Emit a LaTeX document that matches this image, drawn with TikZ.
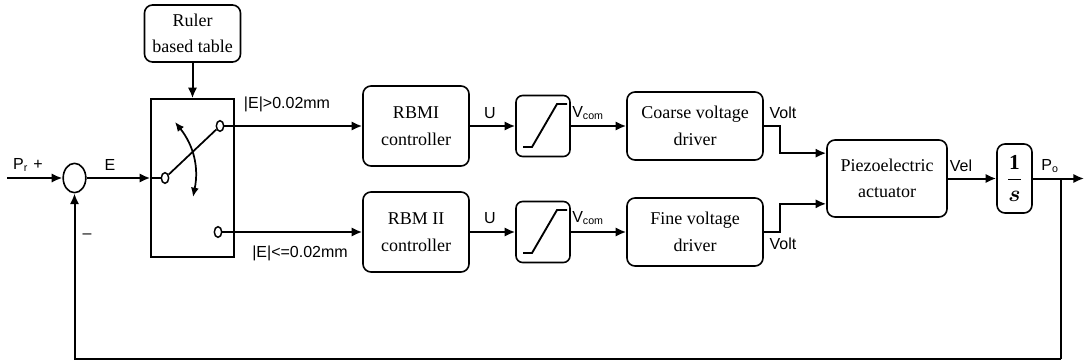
\documentclass[tikz,border=0pt]{standalone}
\usepackage{amsmath}
\usepackage{fontspec}
\setmainfont{Liberation Serif}
\setsansfont{Liberation Sans}
\usetikzlibrary{positioning,arrows.meta,shapes}

\begin{document}
\begin{tikzpicture}[x=0.75pt, y=-0.75pt,
      box/.style={rectangle, draw, line width=1.2pt, rounded corners=6pt,
        align=center, inner sep=2pt, font=\fontsize{13.5}{20}\selectfont},
      sat/.style={rectangle, draw, line width=1.2pt, rounded corners=5pt,
        minimum width=40.5pt, minimum height=45.75pt},
      term/.style={ellipse, draw, line width=1.1pt, fill=white, inner sep=0pt,
        minimum width=5.5pt, minimum height=8pt},
      lbl/.style={font=\sffamily\fontsize{12}{14}\selectfont, inner sep=1pt},
      wire/.style={line width=1.3pt},
      arr/.style={-{Latex[length=8pt,width=7pt]}, line width=1.5pt}
    ]
      \useasboundingbox (0,0) rectangle (1085,364);
      % blocks
      \node[box, minimum width=72pt, minimum height=42.75pt] (ruler) at (192.5,33.5) {Ruler\\based table};
      \node[rectangle, draw, line width=1.2pt, minimum width=62.25pt, minimum height=118.5pt] (sw) at (192.5,178) {};
      \node[ellipse, draw, line width=1.2pt, inner sep=0pt, minimum width=17pt, minimum height=22pt] (sum) at (74.5,178) {};
      \node[box, minimum width=79.5pt, minimum height=60pt]  (rbm1)   at (416,126) {RBMI\\controller};
      \node[sat]                                            (sat1)   at (543,126) {};
      \node[box, minimum width=102pt, minimum height=51pt]  (coarse) at (695,126) {Coarse voltage\\driver};
      \node[box, minimum width=79.5pt, minimum height=60pt]  (rbm2)   at (416,232) {RBM II\\controller};
      \node[sat]                                            (sat2)   at (543,232) {};
      \node[box, minimum width=102pt, minimum height=51pt]  (fine)   at (695,232) {Fine voltage\\driver};
      \node[box, minimum width=90pt, minimum height=57.75pt] (piezo) at (887,178.5) {Piezoelectric\\actuator};
      \node[box, minimum width=26.25pt, minimum height=51.75pt, inner sep=0pt, font=\fontsize{16}{18}\selectfont] (integ) at (1014.5,178.5) {$\displaystyle\frac{\mathbf{1}}{\boldsymbol{s}}$};
      % switch
      \node[term] (tin) at (165,178) {};
      \node[term] (tup) at (220,126) {};
      \node[term] (tlo) at (218,232) {};
      \draw[wire] (sw.west) -- (tin);
      \draw[wire] (tin) -- (tup);
      \draw[wire, {Latex[length=7pt,width=6pt]}-{Latex[length=7pt,width=6pt]}] (175,122) to[bend left=25] (193,197);
      \foreach \s in {sat1,sat2}
        \draw[line width=1.4pt] ([shift={(-20,21)}]\s.center) -- ++(9,0) -- ++(25,-43) -- ++(10,0);
      % connectors
      \coordinate (in) at (7,178);
      \coordinate (out) at (1084,178.5);
      \coordinate (br) at (1061,178.5);
      \coordinate (fb) at (1061,359);
      \draw[arr] (in) -- (sum);
      \draw[arr] (sum) -- (sw);
      \draw[arr] (ruler) -- (sw);
      \draw[arr] (tup) -- (rbm1); \draw[arr] (rbm1) -- (sat1); \draw[arr] (sat1) -- (coarse);
      \draw[arr] (tlo) -- (rbm2); \draw[arr] (rbm2) -- (sat2); \draw[arr] (sat2) -- (fine);
      \draw[arr] (coarse.east) -- ++(16,0) |- ([yshift=19pt]piezo.west);
      \draw[arr] (fine.east) -- ++(16,0) |- ([yshift=-19pt]piezo.west);
      \draw[arr] (piezo) -- (integ);
      \draw[arr] (integ) -- (out);
      \draw[wire] (br) -- (fb);
      \draw[arr] (fb) -| (sum.south);
      % labels
      \node[lbl] (lpr)    at (28,165)   {P\textsubscript{r}\,\,+};
      \node[lbl] (le)     at (110,165)  {E};
      \node[lbl] (lmin)   at (87,236)   {\textendash};
      \node[lbl] (lhi)    at (287,104)  {|E|>0.02mm};
      \node[lbl] (llo)    at (300,253)  {|E|<=0.02mm};
      \node[lbl] (lu1)    at (490,113)  {U};
      \node[lbl] (lu2)    at (490,218)  {U};
      \node[lbl] (lv1)    at (588,113)  {V\textsubscript{com}};
      \node[lbl] (lv2)    at (588,218)  {V\textsubscript{com}};
      \node[lbl] (lvolt1) at (783,113)  {Volt};
      \node[lbl] (lvolt2) at (783,244)  {Volt};
      \node[lbl] (lvel)   at (961,166)  {Vel};
      \node[lbl] (lpo)    at (1050,166) {P\textsubscript{o}};
    \end{tikzpicture}
\end{document}
